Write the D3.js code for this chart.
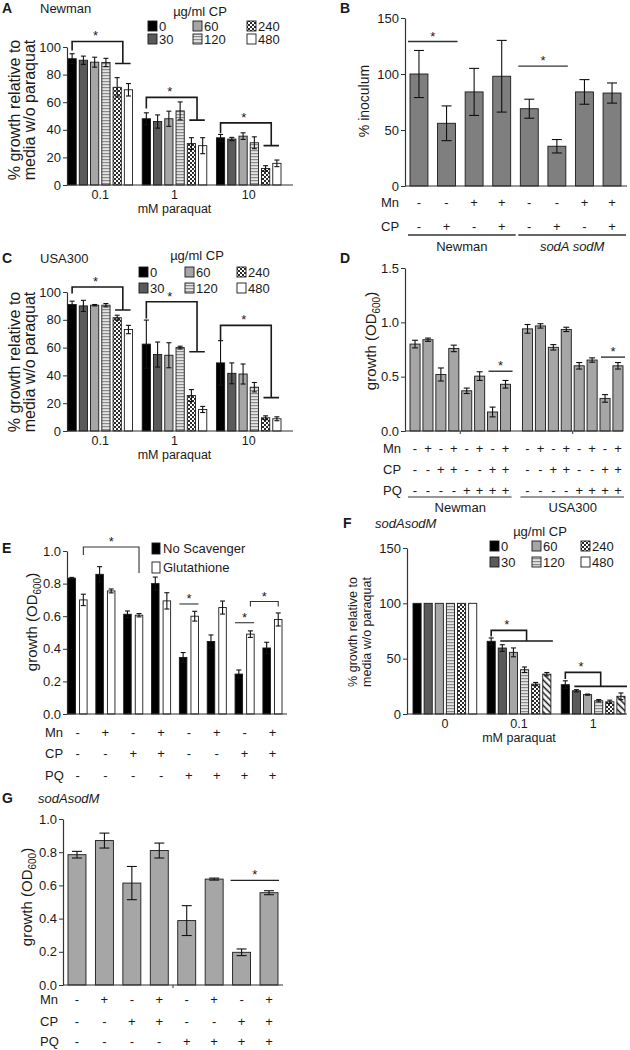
<!DOCTYPE html>
<html><head><meta charset="utf-8">
<script src="https://cdn.jsdelivr.net/npm/d3@7"></script>
<style>
body{margin:0;background:#fff}
svg{display:block}
</style></head><body>
<svg id="c" width="630" height="1050"></svg>
<script>
// ---------------- DATA ----------------
const cpDoses = ["0","30","60","120","240","480"];
// Panel A (Newman)
const paraquatA = ["0.1","1","10"];
const aMeans = [[91.5,90.4,89,88.8,70.8,69],[48,46,48,53.7,30,28.5],[34.2,33.3,35.4,30.6,12,15.7]];
const aErrs  = [[3.6,3,3.6,3,7,4.5],[4.3,4.8,5.5,6.5,4.3,5.8],[2.4,1.2,2.4,4.3,2,2.4]];
const aSigTop = [104,63.5,45], aSigLeft = [97.5,55.5,37.5], aSigRight = [88,47,28.5];
// Panel B
const bStrains = ["Newman","sodA sodM"];
const bMn = ["-","-","+","+","-","-","+","+"];
const bCP = ["-","+","-","+","-","+","-","+"];
const bMeans = [100,56,84,98,69,35.5,84,83];
const bErrs  = [21,15.5,21,32,8.5,6,11,9];
const bSigPairs = [[0,1],[4,5]], bSigY = [129,107];
// Panel C (USA300)
const paraquatC = ["0.1","1","10"];
const cMeans = [[91,90,90.5,90.5,81.5,73],[62.5,55,54.5,60,25.5,15.5],[49,41.5,41,31.5,9.5,8.8]];
const cErrs  = [[2.4,4,0.5,1.2,1.8,3],[17.3,9,9,1,4.3,2.2],[16,7.5,7.2,3.4,1.4,1.4]];
const cSigTop = [103.6,93,76], cSigLeft = [99,81,65], cSigRight = [87,57,24];
// Panel D
const dStrains = ["Newman","USA300"];
const dMn = ["-","+","-","+","-","+","-","+"];
const dCP = ["-","-","+","+","-","-","+","+"];
const dPQ = ["-","-","-","-","+","+","+","+"];
const dMeans = [[0.80,0.84,0.52,0.76,0.37,0.505,0.175,0.43],[0.94,0.967,0.77,0.935,0.60,0.653,0.30,0.60]];
const dErrs  = [[0.035,0.015,0.06,0.03,0.025,0.04,0.045,0.035],[0.04,0.02,0.025,0.02,0.03,0.02,0.035,0.03]];
const dSigY = [0.55,0.68];
// Panel E
const eSeries = ["No Scavenger","Glutathione"];
const eMn = ["-","+","-","+","-","+","-","+"];
const eCP = ["-","-","+","+","-","-","+","+"];
const ePQ = ["-","-","-","-","+","+","+","+"];
const eMeans = [[0.833,0.857,0.612,0.80,0.347,0.445,0.245,0.405],[0.70,0.755,0.606,0.694,0.60,0.653,0.49,0.58]];
const eErrs  = [[0.005,0.047,0.02,0.04,0.03,0.04,0.025,0.035],[0.035,0.012,0.01,0.05,0.03,0.04,0.02,0.04]];
// Panel F (sodAsodM)
const paraquatF = ["0","0.1","1"];
const fMeans = [[100,100,100,100,100,100],[65.7,59.6,55.7,40,27,36],[26.5,21,17.5,12,11,16]];
const fErrs  = [[0,0,0,0,0,0],[3,3,4,2.5,1.5,1.5],[3.5,1,0.5,1,1.5,3]];
const fSigTop = [null,75.6,37.6], fSigLeft = [null,70,31.6], fSigRight = [null,66,25];
// Panel G (sodAsodM)
const gMn = ["-","+","-","+","-","+","-","+"];
const gCP = ["-","-","+","+","-","-","+","+"];
const gPQ = ["-","-","-","-","+","+","+","+"];
const gMeans = [0.785,0.87,0.614,0.81,0.388,0.638,0.197,0.556];
const gErrs  = [0.02,0.045,0.1,0.045,0.09,0.006,0.02,0.012];
const gSigY = 0.63;

// ---------------- SETUP ----------------
const FONT = '"Liberation Sans", Arial, sans-serif';
const INK = "#1a1a1a";
const svg = d3.select("#c").attr("font-family", FONT);
svg.append("rect").attr("width",630).attr("height",1050).attr("fill","#fff");

const defs = svg.append("defs");
const st = defs.append("pattern").attr("id","stripe").attr("patternUnits","userSpaceOnUse").attr("width",4).attr("height",3);
st.append("rect").attr("width",4).attr("height",3).attr("fill","#e4e4e4");
st.append("rect").attr("width",4).attr("height",1.2).attr("fill","#8a8a8a");
const ck = defs.append("pattern").attr("id","checker").attr("patternUnits","userSpaceOnUse").attr("width",4).attr("height",4);
ck.append("rect").attr("width",4).attr("height",4).attr("fill","#fff");
ck.append("rect").attr("width",2).attr("height",2).attr("fill","#2a2a2a");
ck.append("rect").attr("x",2).attr("y",2).attr("width",2).attr("height",2).attr("fill","#2a2a2a");
const hp = defs.append("pattern").attr("id","hatch").attr("patternUnits","userSpaceOnUse").attr("width",4.5).attr("height",4.5).attr("patternTransform","rotate(-45)");
hp.append("rect").attr("width",4.5).attr("height",4.5).attr("fill","#fff");
hp.append("line").attr("x1",2.25).attr("y1",0).attr("x2",2.25).attr("y2",4.5).attr("stroke","#111").attr("stroke-width",1.5);

const cpFill = ["#000","#5a5a5a","#a6a6a6","url(#stripe)","url(#checker)","#fff"];

function txt(x, y, s, opts = {}) {
  const t = svg.append("text").attr("x",x).attr("y",y).text(s)
    .attr("font-size", opts.size || 13).attr("fill", INK)
    .attr("text-anchor", opts.anchor || "start");
  if (opts.bold) t.attr("font-weight","bold");
  if (opts.italic) t.attr("font-style","italic");
  return t;
}
function leftAxis(y, x, ticks, fmt) {
  const a = svg.append("g").attr("transform",`translate(${x},0)`)
    .call(d3.axisLeft(y).tickValues(ticks).tickFormat(fmt).tickSize(4).tickSizeOuter(0).tickPadding(2));
  a.attr("font-family",FONT).attr("font-size",13);
  a.select(".domain").attr("stroke","#333").attr("stroke-width",1.2);
  a.selectAll(".tick line").attr("stroke","#333");
  a.selectAll(".tick text").attr("fill",INK);
  return a;
}
function hLine(x1, x2, y, w = 1.2, c = "#333") {
  svg.append("line").attr("x1",x1).attr("x2",x2).attr("y1",y).attr("y2",y).attr("stroke",c).attr("stroke-width",w);
}
function bar(x, w, y, v, fill) {
  svg.append("rect").attr("x",x).attr("width",w).attr("y",y(v)).attr("height",y(0)-y(v))
    .attr("fill",fill).attr("stroke",INK).attr("stroke-width",0.9);
}
function errBar(cx, y, v, e, cap) {
  if (!e) return;
  const g = svg.append("g").attr("stroke","#111").attr("stroke-width",1.1);
  g.append("line").attr("x1",cx).attr("x2",cx).attr("y1",y(v-e)).attr("y2",y(v+e));
  [v-e, v+e].forEach(t => g.append("line").attr("x1",cx-cap/2).attr("x2",cx+cap/2).attr("y1",y(t)).attr("y2",y(t)));
}
function star(x, y) { txt(x, y + 6, "*", {size: 13, anchor: "middle"}); }
function yTitle(lines, x, yc, size, gap) {
  lines.forEach((l, i) => {
    svg.append("text").attr("transform",`translate(${x + i*gap},${yc}) rotate(-90)`)
      .attr("text-anchor","middle").attr("font-size",size).attr("fill",INK).text(l);
  });
}
function odTitle(x, yc) {
  const t = svg.append("text").attr("transform",`translate(${x},${yc}) rotate(-90)`)
    .attr("text-anchor","middle").attr("font-size",15).attr("fill",INK);
  t.append("tspan").text("growth (OD");
  t.append("tspan").attr("font-size",10).attr("dy",4).text("600");
  t.append("tspan").attr("dy",-4).text(")");
}
function cpLegend(xs, ys, tx, ty) {
  txt(tx, ty, "\u00b5g/ml CP", {anchor:"middle"});
  cpDoses.forEach((d, i) => {
    const col = Math.floor(i/2), row = i % 2;
    svg.append("rect").attr("x",xs[col]).attr("y",ys[row]).attr("width",9).attr("height",10)
      .attr("fill",cpFill[i]).attr("stroke",INK).attr("stroke-width",0.9);
    txt(xs[col] + 11, ys[row] + 10, d);
  });
}
function signRows(label, vals, xs, yc, lx) {
  txt(lx, yc + 5, label);
  vals.forEach((s, i) => txt(xs[i], yc + 5, s, {anchor:"middle"}));
}

// dose-response panels (A, C, F)
function dosePanel(o) {
  const y = d3.scaleLinear().domain(o.yDomain).range(o.yRange);
  const x0 = d3.scaleBand().domain(o.groups).range(o.xRange).paddingInner(o.pi).paddingOuter(0);
  const x1 = d3.scaleBand().domain(cpDoses).range([0, x0.bandwidth()]).paddingInner(0.27);
  leftAxis(y, o.axisX0, o.ticks, d3.format("d"));
  o.groups.forEach((gr, gi) => {
    cpDoses.forEach((d, di) => {
      const bx = x0(gr) + x1(d);
      let fill = cpFill[di];
      if (o.hatchLast && di === 5 && gi > 0) fill = "url(#hatch)";
      bar(bx, x1.bandwidth(), y, o.means[gi][di], fill);
    });
    cpDoses.forEach((d, di) => {
      errBar(x0(gr) + x1(d) + x1.bandwidth()/2, y, o.means[gi][di], o.errs[gi][di], 5);
    });
    if (o.sigTop[gi] != null) {
      const gx = x0(gr);
      const lx = gx + x1(cpDoses[0]) + x1.bandwidth()/2;
      const hx0 = gx + x1(cpDoses[o.sigFrom]) + 2;
      const hx1 = gx + x1(cpDoses[5]) + x1.bandwidth() + o.sigPad;
      const mx = (hx0 + hx1) / 2;
      svg.append("path").attr("fill","none").attr("stroke",INK).attr("stroke-width",1.6)
        .attr("d",`M${lx},${y(o.sigLeft[gi])}V${y(o.sigTop[gi])}H${mx}V${y(o.sigRight[gi])}M${hx0},${y(o.sigRight[gi])}H${hx1}`);
      star((lx + mx)/2 - 2, y(o.sigTop[gi]) - 7);
    }
    txt(x0(gr) + x0.bandwidth()/2, o.yRange[0] + 14, gr, {anchor:"middle", size:12.5});
  });
  hLine(o.axisX0, o.axisX1, y(0));
  txt((o.xRange[0] + o.xRange[1]) / 2, o.yRange[0] + 28, "mM paraquat", {anchor:"middle", size:12.5});
}

// ---------------- PANEL A ----------------
txt(2, 13, "A", {bold:true, size:14});
txt(40, 13, "Newman");
cpLegend([148,193,247], [21,34], 200, 16);
dosePanel({groups:paraquatA, means:aMeans, errs:aErrs, xRange:[68,281], pi:0.13,
  yDomain:[0,100], yRange:[185,47], axisX0:67, axisX1:293, ticks:[0,20,40,60,80,100],
  sigTop:aSigTop, sigLeft:aSigLeft, sigRight:aSigRight, sigFrom:4, sigPad:-2});
yTitle(["% growth relative to","media w/o paraquat"], 20, 110, 16, 15);

// ---------------- PANEL C ----------------
txt(2, 263, "C", {bold:true, size:14});
txt(40, 263, "USA300");
cpLegend([139,185,237], [267,283], 197, 260);
dosePanel({groups:paraquatC, means:cMeans, errs:cErrs, xRange:[68,281], pi:0.13,
  yDomain:[0,100], yRange:[431,292], axisX0:67, axisX1:293, ticks:[0,20,40,60,80,100],
  sigTop:cSigTop, sigLeft:cSigLeft, sigRight:cSigRight, sigFrom:4, sigPad:-2});
yTitle(["% growth relative to","media w/o paraquat"], 20, 362, 16, 15);

// ---------------- PANEL F ----------------
txt(343, 528, "F", {bold:true, size:14});
txt(375, 528, "sodAsodM", {italic:true});
cpLegend([490,532,581], [541,557], 540, 536);
dosePanel({groups:paraquatF, means:fMeans, errs:fErrs, xRange:[413,625], pi:0.14,
  yDomain:[0,150], yRange:[714,548], axisX0:407, axisX1:627, ticks:[0,50,100,150],
  sigTop:fSigTop, sigLeft:fSigLeft, sigRight:fSigRight, sigFrom:1, sigPad:2, hatchLast:true});
yTitle(["% growth relative to","media w/o paraquat"], 357, 632, 12.5, 14);

// ---------------- PANEL B ----------------
txt(340, 13, "B", {bold:true, size:14});
(function(){
  const y = d3.scaleLinear().domain([0,150]).range([186,18]);
  const x = d3.scaleBand().domain(d3.range(bMeans.length)).range([410,621]).paddingInner(0.35).paddingOuter(0);
  leftAxis(y, 405, [0,50,100,150], d3.format("d"));
  bMeans.forEach((v,i) => bar(x(i), x.bandwidth(), y, v, "#7f7f7f"));
  bMeans.forEach((v,i) => errBar(x(i) + x.bandwidth()/2, y, v, bErrs[i], 10));
  hLine(405, 627, y(0));
  bSigPairs.forEach((p, k) => {
    const a = x(p[0]) - 2, b = x(p[1]) + x.bandwidth() + 2;
    hLine(a, b, y(bSigY[k]), 1.3, "#333");
    star((a+b)/2, y(bSigY[k]) - 7);
  });
  const cx = d3.range(bMeans.length).map(i => x(i) + x.bandwidth()/2);
  signRows("Mn", bMn, cx, 202, 381);
  signRows("CP", bCP, cx, 226, 381);
  bStrains.forEach((s, k) => {
    const a = x(k*4) - 2, b = x(k*4+3) + x.bandwidth() + 5;
    hLine(a, b, 235, 1.6, "#333");
    txt((a+b)/2, 251, s, {anchor:"middle", italic: k===1});
  });
  yTitle(["% inoculum"], 369, 101, 14, 0);
})();

// ---------------- PANEL D ----------------
txt(340, 263, "D", {bold:true, size:14});
(function(){
  const y = d3.scaleLinear().domain([0,1.5]).range([431,268]);
  const x0 = d3.scaleBand().domain(dStrains).range([410,623]).paddingInner(0.106).paddingOuter(0);
  const x1 = d3.scaleBand().domain(d3.range(8)).range([0,x0.bandwidth()]).paddingInner(0.22);
  leftAxis(y, 405, [0,0.5,1.0,1.5], d3.format(".1f"));
  dStrains.forEach((s, si) => {
    dMeans[si].forEach((v,i) => bar(x0(s)+x1(i), x1.bandwidth(), y, v, "#a6a6a6"));
    dMeans[si].forEach((v,i) => errBar(x0(s)+x1(i)+x1.bandwidth()/2, y, v, dErrs[si][i], 6));
    const a = x0(s)+x1(6)+1, b = x0(s)+x1(7)+x1.bandwidth()+2;
    hLine(a, b, y(dSigY[si]), 1.3, "#222");
    star((a+b)/2, y(dSigY[si]) - 7);
    const cx = d3.range(8).map(i => x0(s)+x1(i)+x1.bandwidth()/2);
    signRows(si===0?"Mn":"", dMn, cx, 448, 383);
    signRows(si===0?"CP":"", dCP, cx, 469, 383);
    signRows(si===0?"PQ":"", dPQ, cx, 490, 383);
    hLine(x0(s)-2, x0(s)+x0.bandwidth()+1, 497, 1.1, "#333");
    txt(x0(s)+x0.bandwidth()/2, 512, s, {anchor:"middle"});
  });
  hLine(405, 623, y(0));
  const ta = svg.append("g").attr("transform",`translate(0,${y(0)})`)
    .call(d3.axisBottom(x0).tickSize(3).tickFormat(""));
  ta.select(".domain").remove();
  ta.selectAll(".tick line").attr("stroke","#333");
  odTitle(376, 341);
})();

// ---------------- PANEL E ----------------
txt(2, 553, "E", {bold:true, size:14});
(function(){
  const y = d3.scaleLinear().domain([0,1]).range([714,551]);
  const x0 = d3.scaleBand().domain(d3.range(8)).range([68,282]).paddingInner(0.314).paddingOuter(0);
  const x1 = d3.scaleBand().domain(eSeries).range([0,x0.bandwidth()]).paddingInner(0.35);
  const fills = ["#000","#fff"];
  leftAxis(y, 67, [0,0.2,0.4,0.6,0.8,1.0], d3.format(".1f"));
  d3.range(8).forEach(i => eSeries.forEach((s, si) => bar(x0(i)+x1(s), x1.bandwidth(), y, eMeans[si][i], fills[si])));
  d3.range(8).forEach(i => eSeries.forEach((s, si) => errBar(x0(i)+x1(s)+x1.bandwidth()/2, y, eMeans[si][i], eErrs[si][i], 5)));
  hLine(67, 287, y(0));
  const wc = i => x0(i)+x1(eSeries[1])+x1.bandwidth()/2;
  svg.append("path").attr("fill","none").attr("stroke","#333").attr("stroke-width",1.1)
    .attr("d",`M${wc(0)},${y(0.975)}V${y(1.025)}H${wc(2)}V${y(0.865)}`);
  star((wc(0)+wc(2))/2, y(1.025) - 7);
  [[4,0.675],[6,0.56]].forEach(([i,v]) => {
    const a = x0(i), b = x0(i)+x0.bandwidth();
    hLine(a, b, y(v), 1.1, "#333");
    star((a+b)/2, y(v) - 7);
  });
  svg.append("path").attr("fill","none").attr("stroke","#333").attr("stroke-width",1.1)
    .attr("d",`M${wc(6)},${y(0.66)}V${y(0.69)}H${wc(7)}V${y(0.66)}`);
  star((wc(6)+wc(7))/2, y(0.69) - 7);
  eSeries.forEach((s, si) => {
    svg.append("rect").attr("x",152).attr("y",543 + si*19).attr("width",8).attr("height",11)
      .attr("fill",fills[si]).attr("stroke",INK).attr("stroke-width",0.9);
    txt(163, 553 + si*19, s);
  });
  const cx = d3.range(8).map(i => x0(i)+x0.bandwidth()/2);
  signRows("Mn", eMn, cx, 732, 45);
  signRows("CP", eCP, cx, 753, 45);
  signRows("PQ", ePQ, cx, 775, 45);
  odTitle(37, 622);
})();

// ---------------- PANEL G ----------------
txt(2, 803, "G", {bold:true, size:14});
txt(38, 803, "sodAsodM", {italic:true});
(function(){
  const y = d3.scaleLinear().domain([0,1]).range([985,819]);
  const x = d3.scaleBand().domain(d3.range(8)).range([68,278]).paddingInner(0.345).paddingOuter(0);
  leftAxis(y, 63, [0,0.2,0.4,0.6,0.8,1.0], d3.format(".1f"));
  gMeans.forEach((v,i) => bar(x(i), x.bandwidth(), y, v, "#a6a6a6"));
  gMeans.forEach((v,i) => errBar(x(i)+x.bandwidth()/2, y, v, gErrs[i], 10));
  hLine(63, 283, y(0));
  const mid = (x(3) + x.bandwidth() + x(4)) / 2;
  svg.append("line").attr("x1",mid).attr("x2",mid).attr("y1",y(0)).attr("y2",y(0)+3).attr("stroke","#333");
  const a = x(6) - 2, b = x(7) + x.bandwidth() + 1;
  hLine(a, b, y(gSigY), 1.3, "#222");
  star((a+b)/2, y(gSigY) - 7);
  const cx = d3.range(8).map(i => x(i)+x.bandwidth()/2);
  signRows("Mn", gMn, cx, 999, 40);
  signRows("CP", gCP, cx, 1021, 40);
  signRows("PQ", gPQ, cx, 1041, 40);
  odTitle(32, 897);
})();
</script>
</body></html>
